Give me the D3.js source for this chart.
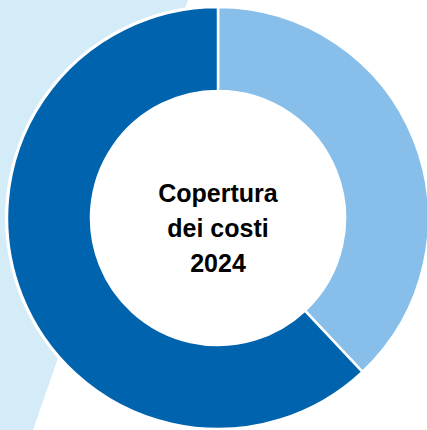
<!DOCTYPE html>
<html>
<head>
  <meta charset="utf-8">
  <title>Copertura dei costi 2024</title>
  <script src="https://cdnjs.cloudflare.com/ajax/libs/d3/7.8.5/d3.min.js"></script>
  <style>
    body { margin: 0; background: #fff; }
    svg { display: block; }
  </style>
</head>
<body>
  <div id="vis"></div>
  <script>
var w = 427, h = 430;

// shares, clockwise from 12 o'clock
var parti = ['ricavi', 'altro'];
var quote = [38, 62];
var colori = ['#88bfea', '#0063ae'];
var titolo = ['Copertura', 'dei costi', '2024'];

var cx = 218, cy = 218, rOut = 211, rIn = 127;

var svg = d3.select('#vis').append('svg')
  .attr('width', w)
  .attr('height', h);

// pale band behind the ring
svg.append('path')
  .attr('d', d3.line()([[0, 0], [188, 0], [58, 358], [33, h], [0, h]]))
  .attr('fill', '#d4ebf8');

var pie = d3.pie().sort(null).value(function(d) { return d; });
var arc = d3.arc().innerRadius(rIn).outerRadius(rOut);

var g = svg.append('g').attr('transform', 'translate(' + cx + ',' + cy + ')');

g.append('circle')
  .attr('r', rOut + 2)
  .attr('fill', '#fff');

g.selectAll('path.fetta').data(pie(quote)).enter()
  .append('path')
  .attr('class', 'fetta')
  .attr('d', arc)
  .attr('fill', function(d, i) { return colori[i]; })
  .attr('stroke', '#fff')
  .attr('stroke-width', 2.5)
  .attr('stroke-linejoin', 'round');

g.selectAll('text').data(titolo).enter()
  .append('text')
  .attr('x', 0)
  .attr('y', function(d, i) { return -16 + i * 35; })
  .attr('text-anchor', 'middle')
  .style('font-family', '"Liberation Sans", Arial, sans-serif')
  .style('font-weight', 'bold')
  .style('font-size', '25px')
  .style('fill', '#000')
  .text(function(d) { return d; });
  </script>
</body>
</html>
